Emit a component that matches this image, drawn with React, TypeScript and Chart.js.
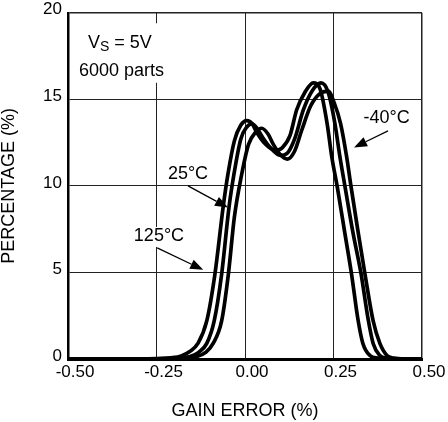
import { useEffect, useRef } from "react";
import { Chart, registerables } from "chart.js";

Chart.register(...registerables);

// ---- data ----
const xTickValues = [-0.5, -0.25, 0, 0.25, 0.5];
const yTickValues = [0, 5, 10, 15, 20];

const x125 = [-0.5, -0.3, -0.25, -0.21, -0.18, -0.155, -0.133, -0.108, -0.085, -0.061, -0.048, -0.03, -0.012, 0.005, 0.02, 0.033, 0.056, 0.085, 0.105, 0.127, 0.146, 0.169, 0.193, 0.212, 0.232, 0.245, 0.261, 0.281, 0.301, 0.319, 0.333, 0.353, 0.375, 0.42, 0.5];
const y125 = [0, 0, 0.02, 0.07, 0.18, 0.45, 0.9, 2.2, 4.9, 8.9, 10.7, 12.6, 13.5, 13.77, 13.6, 13.1, 12.45, 12.06, 12.2, 12.9, 14.4, 15.4, 15.95, 15.6, 13.6, 11.7, 9.9, 7.4, 4.9, 2.3, 0.9, 0.2, 0.05, 0, 0];

const x25 = [-0.5, -0.28, -0.23, -0.19, -0.155, -0.13, -0.108, -0.087, -0.066, -0.045, -0.031, -0.012, 0.005, 0.02, 0.035, 0.05, 0.072, 0.1, 0.12, 0.14, 0.165, 0.19, 0.215, 0.235, 0.254, 0.268, 0.283, 0.305, 0.328, 0.347, 0.362, 0.381, 0.4, 0.44, 0.5];
const y25 = [0, 0, 0.02, 0.07, 0.15, 0.4, 0.9, 2.2, 4.9, 8.8, 10.7, 12.7, 13.4, 13.58, 13.3, 12.8, 12.2, 11.76, 11.9, 12.7, 14.4, 15.5, 15.95, 15.4, 13.6, 11.7, 9.9, 7.3, 4.9, 2.4, 0.9, 0.2, 0.05, 0, 0];

const xM40 = [-0.5, -0.27, -0.22, -0.18, -0.136, -0.11, -0.09, -0.066, -0.047, -0.03, -0.01, 0.01, 0.03, 0.047, 0.065, 0.08, 0.1, 0.12, 0.14, 0.16, 0.185, 0.21, 0.235, 0.252, 0.27, 0.287, 0.3, 0.319, 0.339, 0.362, 0.381, 0.401, 0.42, 0.45, 0.5];
const yM40 = [0, 0, 0.02, 0.06, 0.15, 0.4, 0.9, 2.2, 4.9, 8.2, 10.6, 12.4, 13.1, 13.33, 13.0, 12.4, 11.8, 11.55, 12.0, 13.2, 14.6, 15.3, 15.47, 14.8, 13.6, 11.7, 9.9, 7.4, 4.9, 2.2, 0.9, 0.2, 0.05, 0, 0];

const seriesNames = ["125°C", "25°C", "-40°C"];

// ---- annotations (in data coordinates) ----
const labelNotes = [
  { text: "-40°C", x: 0.4, y: 13.64, box: false },
  { text: "25°C", x: -0.161, y: 10.4, box: false },
  { text: "125°C", x: -0.243, y: 6.82, box: true },
];
const arrowNotes = [
  { x1: 0.404, y1: 13.18, x2: 0.308, y2: 12.22 },
  { x1: -0.161, y1: 10.0, x2: -0.048, y2: 8.75 },
  { x1: -0.248, y1: 6.42, x2: -0.118, y2: 5.15 },
];
const headerNote = { x: -0.4435, y1: 17.95, y2: 16.36, line2: "6000 parts" };

const FONT_FAMILY = '"Liberation Sans", Arial, Helvetica, sans-serif';

const annotationPlugin = {
  id: "annotations",
  afterDatasetsDraw(chart: any) {
    const ctx = chart.ctx;
    const xs = chart.scales.x;
    const ys = chart.scales.y;
    ctx.save();
    ctx.textBaseline = "alphabetic";

    // header block with white background
    const hx = xs.getPixelForValue(headerNote.x);
    const hb1 = ys.getPixelForValue(headerNote.y1);
    const hb2 = ys.getPixelForValue(headerNote.y2);
    ctx.font = `18px ${FONT_FAMILY}`;
    const line2x = hx - 9;
    const w2 = ctx.measureText(headerNote.line2).width;
    ctx.fillStyle = "#fff";
    ctx.fillRect(line2x - 4, hb1 - 25, w2 + 10, hb2 - hb1 + 32);
    ctx.fillStyle = "#000";
    ctx.textAlign = "left";
    ctx.fillText("V", hx, hb1);
    const wv = ctx.measureText("V").width;
    ctx.font = `14px ${FONT_FAMILY}`;
    ctx.fillText("S", hx + wv, hb1 + 3);
    const ws = ctx.measureText("S").width;
    ctx.font = `18px ${FONT_FAMILY}`;
    ctx.fillText(" = 5V", hx + wv + ws, hb1);
    ctx.fillText(headerNote.line2, line2x, hb2);

    // labels
    ctx.textAlign = "center";
    for (const n of labelNotes) {
      const px = xs.getPixelForValue(n.x);
      const py = ys.getPixelForValue(n.y);
      const w = ctx.measureText(n.text).width;
      if (n.box) {
        ctx.fillStyle = "#fff";
        ctx.fillRect(px - w / 2 - 2, py - 14, w + 4, 20);
      }
      ctx.fillStyle = "#000";
      ctx.fillText(n.text, px, py);
    }

    // arrows
    ctx.strokeStyle = "#000";
    ctx.fillStyle = "#000";
    ctx.lineWidth = 1.3;
    for (const a of arrowNotes) {
      const x1 = xs.getPixelForValue(a.x1);
      const y1 = ys.getPixelForValue(a.y1);
      const x2 = xs.getPixelForValue(a.x2);
      const y2 = ys.getPixelForValue(a.y2);
      const ang = Math.atan2(y2 - y1, x2 - x1);
      const len = 13;
      const half = 5;
      const bx = x2 - len * Math.cos(ang);
      const by = y2 - len * Math.sin(ang);
      ctx.beginPath();
      ctx.moveTo(x1, y1);
      ctx.lineTo(bx, by);
      ctx.stroke();
      ctx.beginPath();
      ctx.moveTo(x2, y2);
      ctx.lineTo(bx + half * Math.sin(ang), by - half * Math.cos(ang));
      ctx.lineTo(bx - half * Math.sin(ang), by + half * Math.cos(ang));
      ctx.closePath();
      ctx.fill();
    }
    ctx.restore();
  },
};

export default function App() {
  const canvasRef = useRef<HTMLCanvasElement | null>(null);

  useEffect(() => {
    if (!canvasRef.current) return;
    const mk = (xa: number[], ya: number[]) => xa.map((x, i) => ({ x, y: ya[i] }));
    const series = [mk(x125, y125), mk(x25, y25), mk(xM40, yM40)];
    const chart = new Chart(canvasRef.current, {
      type: "line",
      data: {
        datasets: series.map((d, i) => ({
          label: seriesNames[i],
          data: d,
          borderColor: "#000",
          borderWidth: 3.7,
          pointRadius: 0,
          fill: false,
          cubicInterpolationMode: "monotone" as const,
        })),
      },
      options: {
        animation: false,
        responsive: false,
        devicePixelRatio: 1,
        layout: { padding: { top: 7, right: 26, left: 0, bottom: 0 } },
        plugins: { legend: { display: false }, tooltip: { enabled: false } },
        scales: {
          x: {
            type: "linear",
            min: -0.5,
            max: 0.5,
            afterBuildTicks: (s: any) => {
              s.ticks = xTickValues.map((v) => ({ value: v }));
            },
            afterFit: (s: any) => {
              s.height = 63;
            },
            grid: {
              color: "#222",
              lineWidth: (c: any) => (c.tick && c.tick.value === 0.5 ? 1.5 : 1),
              drawTicks: false,
            },
            border: { color: "#000", width: 3 },
            ticks: {
              color: "#000",
              font: { family: FONT_FAMILY, size: 17 },
              padding: 3,
              labelOffset: 7,
              maxRotation: 0,
              callback: (v: any) => Number(v).toFixed(2),
            },
            title: {
              display: true,
              text: "GAIN ERROR (%)",
              color: "#000",
              font: { family: FONT_FAMILY, size: 18, lineHeight: 1 },
              padding: { top: 0, bottom: 2 },
            },
          },
          y: {
            type: "linear",
            min: 0,
            max: 20,
            afterBuildTicks: (s: any) => {
              s.ticks = yTickValues.map((v) => ({ value: v }));
            },
            afterFit: (s: any) => {
              s.width = 68;
            },
            grid: {
              color: "#222",
              lineWidth: (c: any) => (c.tick && c.tick.value === 20 ? 1.5 : 1),
              drawTicks: false,
            },
            border: { color: "#000", width: 2.5 },
            ticks: {
              color: "#000",
              font: { family: FONT_FAMILY, size: 17, lineHeight: 0.8 },
              padding: 6,
              labelOffset: -3,
              callback: (v: any) => String(v),
            },
            title: {
              display: true,
              text: "PERCENTAGE (%)",
              color: "#000",
              font: { family: FONT_FAMILY, size: 18, lineHeight: 1 },
              padding: { top: 0, bottom: 0 },
            },
          },
        },
      },
      plugins: [annotationPlugin],
    });
    return () => chart.destroy();
  }, []);

  return (
    <div style={{ position: "fixed", left: 0, top: 0, width: 448, height: 422, background: "#fff" }}>
      <canvas ref={canvasRef} width={448} height={422} style={{ width: 448, height: 422, display: "block" }} />
    </div>
  );
}
